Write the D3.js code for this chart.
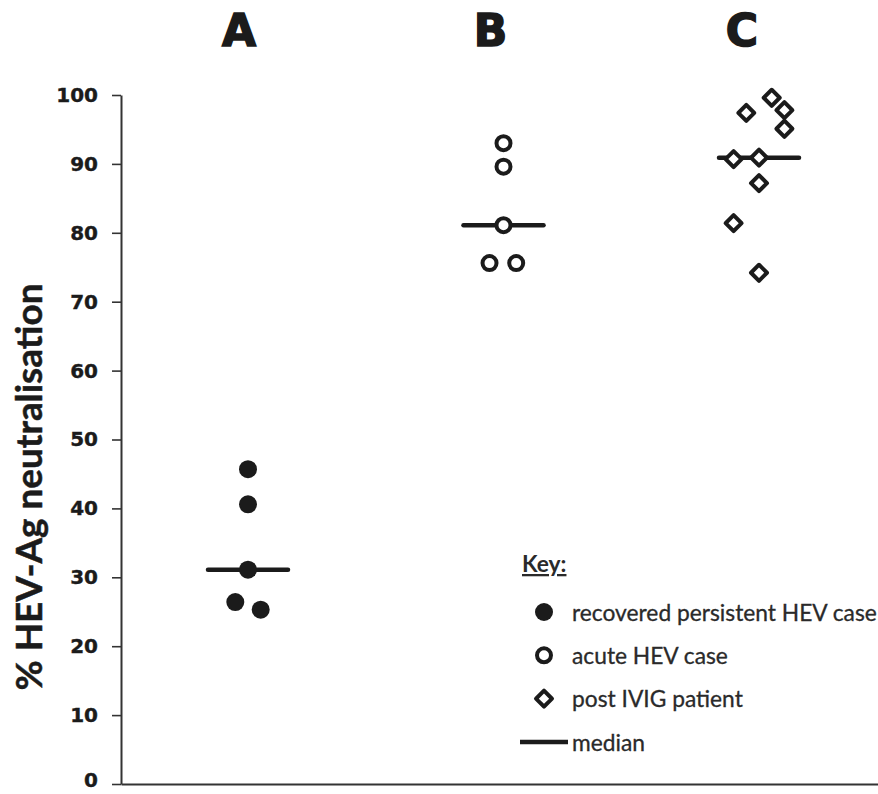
<!DOCTYPE html>
<html>
<head>
<meta charset="utf-8">
<script src="https://cdn.jsdelivr.net/npm/d3@7"></script>
<style>
  html, body { margin: 0; padding: 0; background: #fff; }
  svg { display: block; }
</style>
</head>
<body>
<svg id="chart" width="878" height="794"></svg>
<script>
// ---- data ----
const groups = ["A", "B", "C"];
const valuesA = [45.7, 40.6, 31.1, 26.4, 25.3];
const jitterA = [0, 0, 0, -1, 1];
const valuesB = [93.0, 89.6, 81.1, 75.6, 75.6];
const jitterB = [0, 0, 0, -1.1, 1];
const valuesC = [97.4, 99.6, 97.8, 95.1, 90.7, 90.9, 87.2, 81.4, 74.2];
const jitterC = [-1, 1, 2, 2, -2, 0, 0, -2, 0];
const yTicks = [0, 10, 20, 30, 40, 50, 60, 70, 80, 90, 100];
const legendLabels = ["recovered persistent HEV case", "acute HEV case", "post IVIG patient", "median"];
const yTitle = "% HEV-Ag neutralisation";

const series = [
  { group: "A", values: valuesA, jitter: jitterA, shape: "filled" },
  { group: "B", values: valuesB, jitter: jitterB, shape: "open" },
  { group: "C", values: valuesC, jitter: jitterC, shape: "diamond" }
];

// ---- layout ----
const svg = d3.select("#chart");
const ink = "#1b1b1b";
const axisX = 121, yTop = 95, yBottom = 784;
const y = d3.scaleLinear().domain([0, 100]).range([yBottom, yTop]);
const xGroup = d3.scalePoint().domain(groups).range([248, 759]);
const xLabel = d3.scalePoint().domain(groups).range([239, 742]);
const jitterStep = 12.7;
const medianHalf = 40;

// group letters
svg.append("g").selectAll("text").data(groups).join("text")
  .attr("x", d => xLabel(d)).attr("y", 46)
  .attr("text-anchor", "middle")
  .attr("font-family", "DejaVu Sans").attr("font-weight", 900)
  .attr("font-size", 44).attr("fill", ink)
  .attr("stroke", ink).attr("stroke-width", 1.6)
  .text(d => d);

// y axis
const yAxis = d3.axisLeft(y).tickValues(yTicks).tickSize(9).tickPadding(14).tickSizeOuter(0);
const gy = svg.append("g").attr("transform", `translate(${axisX},0)`).call(yAxis);
gy.select(".domain").attr("stroke", "#333").attr("stroke-width", 2);
gy.selectAll(".tick line").attr("stroke", "#333").attr("stroke-width", 1.6);
gy.selectAll(".tick text")
  .attr("font-family", "DejaVu Sans").attr("font-weight", "bold")
  .attr("font-size", 20).attr("fill", ink)
  .attr("stroke", ink).attr("stroke-width", 0.4)
  .attr("dy", d => d === 0 ? "0.12em" : "0.32em");

// bottom line (x axis without ticks)
const xBase = d3.scaleLinear().domain([0, 1]).range([axisX, 878]);
const gx = svg.append("g").attr("transform", `translate(0,${yBottom})`)
  .call(d3.axisBottom(xBase).tickValues([]).tickSizeOuter(0));
gx.select(".domain").attr("stroke", "#333").attr("stroke-width", 2);

// y title
function fitText(sel, target) {
  const n = sel.node();
  const fs = parseFloat(sel.attr("font-size"));
  const w = n.getComputedTextLength();
  if (w > 0) sel.attr("font-size", fs * target / w);
}
const title = svg.append("text")
  .attr("transform", `translate(42,487) rotate(-90)`)
  .attr("text-anchor", "middle")
  .attr("font-family", "Lato").attr("font-weight", "bold")
  .attr("font-size", 28).attr("fill", ink)
  .attr("stroke", ink).attr("stroke-width", 0.5)
  .text(yTitle);
fitText(title, 407);

// symbols
const diamondPath = d3.symbol().type(d3.symbolSquare).size(128)();
function drawMarker(g, shape) {
  if (shape === "filled") {
    g.append("circle").attr("r", 9).attr("fill", ink);
  } else if (shape === "open") {
    g.append("circle").attr("r", 7).attr("fill", "#fff").attr("stroke", ink).attr("stroke-width", 4);
  } else {
    g.append("path").attr("d", diamondPath).attr("transform", "rotate(45)")
      .attr("fill", "#fff").attr("stroke", ink).attr("stroke-width", 4).attr("stroke-linejoin", "round");
  }
}

// points + medians
series.forEach(s => {
  const g = svg.append("g");
  const cx = xGroup(s.group);
  const med = d3.median(s.values);
  s.values.forEach((v, i) => {
    const m = g.append("g").attr("transform", `translate(${cx + s.jitter[i] * jitterStep},${y(v)})`);
    drawMarker(m, s.shape);
  });
  g.insert("line", ":first-child")
    .attr("x1", cx - medianHalf).attr("x2", cx + medianHalf)
    .attr("y1", y(med)).attr("y2", y(med))
    .attr("stroke", ink).attr("stroke-width", 4.5).attr("stroke-linecap", "round");
});

// legend
const lg = svg.append("g");
const keyText = lg.append("text").attr("x", 522).attr("y", 572)
  .attr("font-family", "Lato").attr("font-weight", "bold")
  .attr("font-size", 21).attr("fill", "#2a2a2a")
  .attr("text-decoration", "underline")
  .text("Key:");
const rowsY = d3.scalePoint().domain(legendLabels).range([612, 742]);
const shapes = ["filled", "open", "diamond", "line"];
legendLabels.forEach((lab, i) => {
  const ry = rowsY(lab);
  if (shapes[i] === "line") {
    lg.append("line").attr("x1", 520).attr("x2", 568).attr("y1", ry).attr("y2", ry)
      .attr("stroke", ink).attr("stroke-width", 4.5);
  } else {
    const m = lg.append("g").attr("transform", `translate(544,${ry})`);
    drawMarker(m, shapes[i]);
  }
  const t = lg.append("text").attr("x", 572).attr("y", ry)
    .attr("dominant-baseline", "central")
    .attr("font-family", "Lato").attr("font-size", 21).attr("fill", "#2a2a2a")
    .attr("stroke", "#2a2a2a").attr("stroke-width", 0.3)
    .text(lab);
  if (i === 0) t.attr("data-fit", "1");
});
// fit legend font so first row spans ~305px, apply to all rows
const first = lg.select("text[data-fit='1']");
const w0 = first.node().getComputedTextLength();
const fsLegend = 21 * 305 / w0;
lg.selectAll("text").filter(function() { return this !== keyText.node(); }).attr("font-size", fsLegend);
keyText.attr("font-size", fsLegend);
</script>
</body>
</html>
